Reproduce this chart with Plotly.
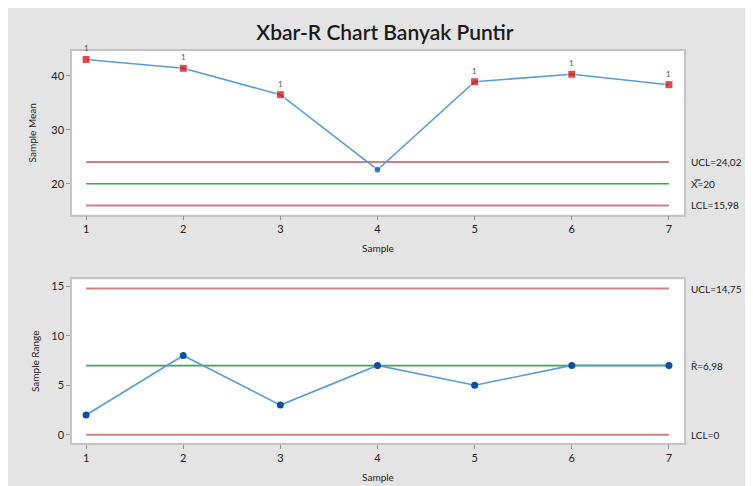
import plotly.graph_objects as go
from plotly.subplots import make_subplots

samples = [1, 2, 3, 4, 5, 6, 7]
sample_means = [43.03, 41.4, 36.5, 22.6, 38.9, 40.3, 38.35]
sample_ranges = [2, 8, 3, 7, 5, 7, 7]
xbar_ucl, xbar_center, xbar_lcl = 24.02, 20, 15.98
r_ucl, r_center, r_lcl = 14.75, 6.98, 0
flag_mean = [True, True, True, False, True, True, True]

RED_LINE = "#cf8080"
GREEN_LINE = "#3aa94a"
BLUE_LINE = "#5b9bd5"
BLUE_PT = "#0a4fa3"
RED_PT = "#d40000"
FONT = "Lato"

fig = make_subplots(rows=2, cols=1, vertical_spacing=0.1658)

def add_limits(row, ucl, cen, lcl):
    for v, c, w in [(ucl, RED_LINE, 2), (cen, GREEN_LINE, 1.6), (lcl, RED_LINE, 2)]:
        fig.add_trace(go.Scatter(x=[samples[0], samples[-1]], y=[v, v], mode="lines",
                                 line=dict(color=c, width=w), hoverinfo="skip"), row=row, col=1)

add_limits(1, xbar_ucl, xbar_center, xbar_lcl)
add_limits(2, r_ucl, r_center, r_lcl)

fig.add_trace(go.Scatter(x=samples, y=sample_means, mode="lines",
                         line=dict(color=BLUE_LINE, width=1.6)), row=1, col=1)
fig.add_trace(go.Scatter(x=samples, y=sample_means, mode="markers",
                         marker=dict(color=[RED_PT if f else BLUE_PT for f in flag_mean],
                                     symbol=["square" if f else "circle" for f in flag_mean],
                                     size=[8 if f else 7 for f in flag_mean])), row=1, col=1)
fig.add_trace(go.Scatter(x=samples, y=sample_ranges, mode="lines+markers",
                         line=dict(color=BLUE_LINE, width=1.6),
                         marker=dict(color=BLUE_PT, size=7)), row=2, col=1)

for s, m, f in zip(samples, sample_means, flag_mean):
    if f:
        fig.add_annotation(x=s, y=m, text="1", showarrow=False, yshift=11,
                           font=dict(size=8, color="#555555", family=FONT), row=1, col=1)

tick_font = dict(size=11, color="#222222", family=FONT)
title_font = dict(size=10, color="#222222", family=FONT)
axis_common = dict(showline=True, mirror=True, linecolor="#c4c4c4", linewidth=1.5,
                   showgrid=False, zeroline=False, ticks="outside", ticklen=4,
                   tickcolor="#909090", tickfont=tick_font, automargin=False)

fig.update_xaxes(**axis_common, range=[0.855, 7.155], tickvals=samples,
                 title=dict(text="Sample", font=title_font, standoff=11))
fig.update_yaxes(**axis_common)
fig.update_yaxes(range=[14.3, 44.6], tickvals=[20, 30, 40], row=1, col=1,
                 title=dict(text="Sample Mean", font=title_font, standoff=13))
fig.update_yaxes(range=[-0.82, 15.66], tickvals=[0, 5, 10, 15], row=2, col=1,
                 title=dict(text="Sample Range", font=title_font, standoff=10))

def rlabel(yref, y, text, yshift=0, size=10):
    fig.add_annotation(xref="paper", yref=yref, x=1.008, y=y, text=text, showarrow=False,
                       xanchor="left", yanchor="middle", yshift=yshift,
                       font=dict(size=size, color="#222222", family=FONT))

rlabel("y", xbar_ucl, "UCL=24,02")
rlabel("y", xbar_center, "X\u033f=20")
rlabel("y", xbar_lcl, "LCL=15,98")
rlabel("y2", r_ucl, "UCL=14,75")
rlabel("y2", r_center, "R\u0304=6,98")
rlabel("y2", r_lcl, "LCL=0")

fig.update_layout(
    width=745, height=478,
    margin=dict(l=64, r=69, t=43, b=43),
    paper_bgcolor="#e4e4e4", plot_bgcolor="white",
    showlegend=False,
    title=dict(text="Xbar-R Chart Banyak Puntir", x=0.506, xanchor="center", y=0.948, yanchor="middle",
               font=dict(size=21, color="#1a1a1a", family=FONT, weight=600)),
)

fig.write_html("out.html")
